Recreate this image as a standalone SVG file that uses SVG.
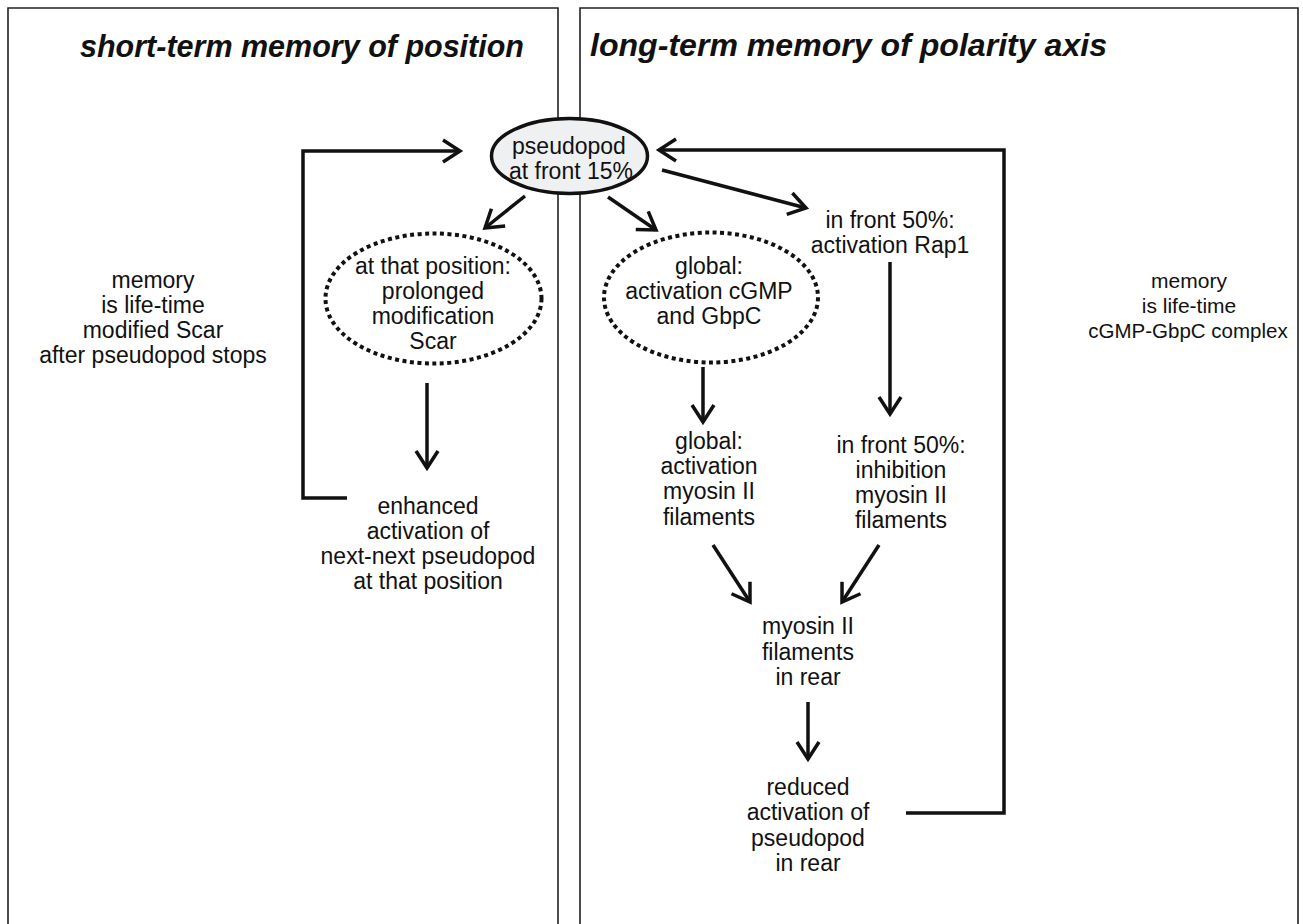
<svg xmlns="http://www.w3.org/2000/svg" width="1303" height="924" viewBox="0 0 1303 924">
<style>
.panel{fill:none;stroke:#222;stroke-width:1.6}
.title{font-family:"Liberation Sans",Arial,sans-serif;font-size:31px;font-weight:bold;font-style:italic;fill:#111}
.t{font-family:"Liberation Sans",Arial,sans-serif;font-size:23px;fill:#111;text-anchor:middle}
.ln{fill:none;stroke:#111;stroke-width:3.5;stroke-linecap:butt;stroke-linejoin:miter}
.dot{fill:#fff;stroke:#111;stroke-width:4;stroke-dasharray:4 3.5}
</style>
<defs>
<marker id="ah" markerUnits="userSpaceOnUse" markerWidth="30" markerHeight="30" refX="18" refY="12" orient="auto" viewBox="0 0 30 24">
<path d="M1,1 L18,12 L1,23" fill="none" stroke="#111" stroke-width="3.5"/>
</marker>
</defs>
<rect width="1303" height="924" fill="#fff"/>
<g id="panels">
<path class="panel" d="M8,930 V8 H558 V930"/>
<path class="panel" d="M580,930 V8 H1298 V930"/>
<text class="title" x="80" y="57" textLength="444" lengthAdjust="spacingAndGlyphs">short-term memory of position</text>
<text class="title" x="590" y="56" textLength="517" lengthAdjust="spacingAndGlyphs">long-term memory of polarity axis</text>
</g>
<g id="connectors">
<path class="ln" d="M347,498 H303 V151 H460" marker-end="url(#ah)"/>
<path class="ln" d="M906,813 H1004 V150 H659" marker-end="url(#ah)"/>
<line class="ln" x1="525" y1="196" x2="485" y2="228" marker-end="url(#ah)"/>
<line class="ln" x1="608" y1="197" x2="656" y2="230" marker-end="url(#ah)"/>
<line class="ln" x1="662" y1="170" x2="806" y2="208" marker-end="url(#ah)"/>
<line class="ln" x1="427" y1="383" x2="427" y2="468" marker-end="url(#ah)"/>
<line class="ln" x1="703" y1="367" x2="703" y2="422" marker-end="url(#ah)"/>
<line class="ln" x1="890" y1="262" x2="890" y2="414" marker-end="url(#ah)"/>
<line class="ln" x1="713" y1="545" x2="750" y2="602" marker-end="url(#ah)"/>
<line class="ln" x1="879" y1="545" x2="842" y2="602" marker-end="url(#ah)"/>
<line class="ln" x1="808" y1="702" x2="808" y2="759" marker-end="url(#ah)"/>
</g>
<g id="pseudopod">
<ellipse cx="569.5" cy="156" rx="78" ry="37.5" fill="#eef0f2" stroke="#111" stroke-width="3.5"/>
<text class="t" x="569" y="154">pseudopod</text>
<text class="t" x="571" y="179">at front 15%</text>
</g>
<g id="scar">
<ellipse class="dot" cx="433.5" cy="298.5" rx="108" ry="65"/>
<text class="t" x="433" y="274">at that position:</text>
<text class="t" x="433" y="299">prolonged</text>
<text class="t" x="433" y="324">modification</text>
<text class="t" x="433" y="349">Scar</text>
</g>
<g id="enhanced">
<text class="t" x="428" y="514">enhanced</text>
<text class="t" x="428" y="539">activation of</text>
<text class="t" x="428" y="564">next-next pseudopod</text>
<text class="t" x="428" y="589">at that position</text>
</g>
<g id="memory-left">
<text class="t" x="153" y="288">memory</text>
<text class="t" x="153" y="313">is life-time</text>
<text class="t" x="153" y="338">modified Scar</text>
<text class="t" x="153" y="363">after pseudopod stops</text>
</g>
<g id="cgmp">
<ellipse class="dot" cx="711" cy="297.5" rx="107" ry="65"/>
<text class="t" x="709" y="274">global:</text>
<text class="t" x="709" y="299">activation cGMP</text>
<text class="t" x="709" y="324">and GbpC</text>
</g>
<g id="rap1">
<text class="t" x="890" y="228">in front 50%:</text>
<text class="t" x="890" y="253">activation Rap1</text>
</g>
<g id="global-myosin">
<text class="t" x="709" y="449">global:</text>
<text class="t" x="709" y="474">activation</text>
<text class="t" x="709" y="499">myosin II</text>
<text class="t" x="709" y="525">filaments</text>
</g>
<g id="inhibition">
<text class="t" x="901" y="453">in front 50%:</text>
<text class="t" x="901" y="478">inhibition</text>
<text class="t" x="901" y="503">myosin II</text>
<text class="t" x="901" y="528">filaments</text>
</g>
<g id="myosin-rear">
<text class="t" x="808" y="634">myosin II</text>
<text class="t" x="808" y="660">filaments</text>
<text class="t" x="808" y="685">in rear</text>
</g>
<g id="reduced">
<text class="t" x="808" y="795">reduced</text>
<text class="t" x="808" y="820">activation of</text>
<text class="t" x="808" y="846">pseudopod</text>
<text class="t" x="808" y="871">in rear</text>
</g>
<g id="memory-right">
<text class="t" x="1189" y="288" style="font-size:21px">memory</text>
<text class="t" x="1189" y="313" style="font-size:21px">is life-time</text>
<text class="t" x="1188" y="338" style="font-size:20.5px">cGMP-GbpC complex</text>
</g>
</svg>
